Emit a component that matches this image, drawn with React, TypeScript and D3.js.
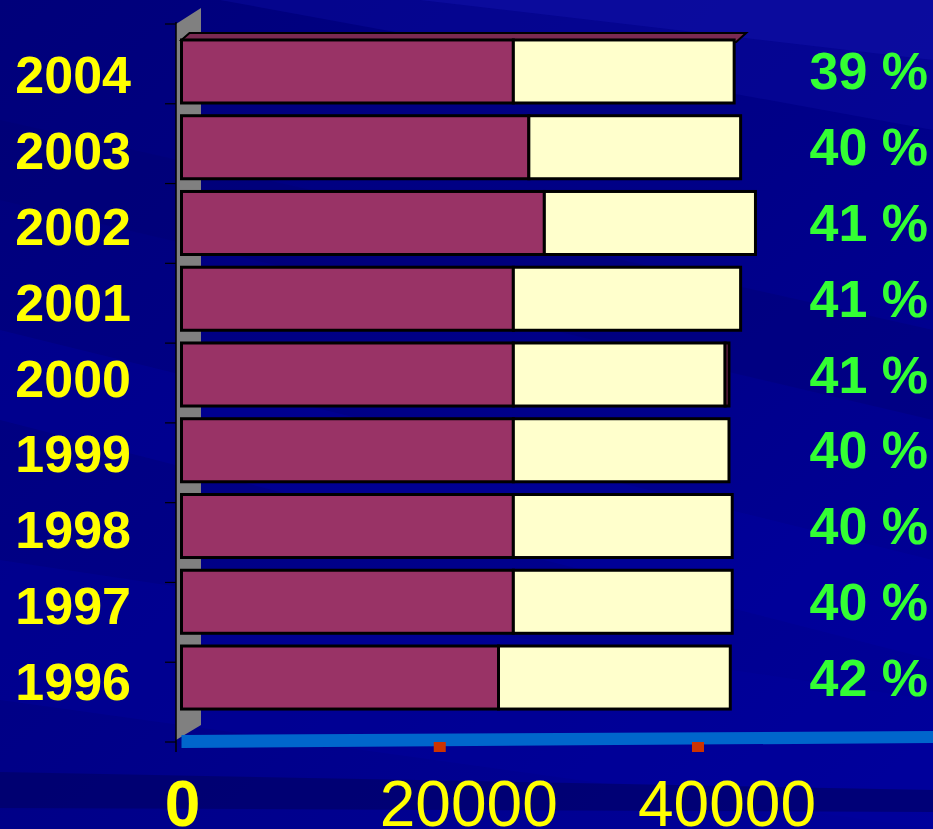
import React from 'react';
import * as d3 from 'd3';

// categories, top to bottom
const years = ['2004', '2003', '2002', '2001', '2000', '1999', '1998', '1997', '1996'];
// series values
const baseValues = [25700, 26900, 28100, 25700, 25700, 25700, 25700, 25700, 24550];
const shareValues = [17100, 16400, 16350, 17600, 16400, 16700, 16950, 16950, 17950];
const extraValues = [0, 0, 0, 0, 300, 0, 0, 0, 0];
const percentLabels = ['39 %', '40 %', '41 %', '41 %', '41 %', '40 %', '40 %', '40 %', '42 %'];
const xTicks = [0, 20000, 40000];

const W = 933;
const H = 829;
const FONT = 'Arial, "Liberation Sans", sans-serif';

const seriesColors = ['#993366', '#FFFFCC', '#993366'];

const App = () => {
  const x = d3.scaleLinear().domain([0, 40000]).range([181.5, 698]);
  const y = d3.scaleBand<string>().domain(years).range([33.6, 715.4]).paddingInner(0.168).paddingOuter(0.084);
  // category boundaries on the wall (perspective differs a bit from bars)
  const wallY = d3.scaleLinear().domain([0, years.length]).range([24, 742]);

  const table = years.map((yr, i) => ({ year: yr, base: baseValues[i], share: shareValues[i], extra: extraValues[i] }));
  const stack = d3.stack<any>().keys(['base', 'share', 'extra'])(table);

  const bh = y.bandwidth();
  const depth = { dx: 8, dy: -7 };
  const top = table[0];
  const topEnd = x(top.base + top.share + top.extra);

  // axis line slightly skewed
  const axisLine = [
    [x(0), 735], [W, 731], [W, 743], [x(0), 748]
  ];

  return (
    <svg width={W} height={H} style={{ position: 'absolute', left: 0, top: 0, fontFamily: FONT }}>
      <defs>
        <linearGradient id="bg" x1="0" y1="0" x2="1" y2="1">
          <stop offset="0" stopColor="#00007a" />
          <stop offset="0.5" stopColor="#000088" />
          <stop offset="1" stopColor="#00009a" />
        </linearGradient>
      </defs>
      <rect width={W} height={H} fill="url(#bg)" />
      {/* diagonal streaks */}
      <polygon points="220,0 933,0 933,130" fill="#0a0aa0" opacity={0.45} />
      <polygon points="420,0 933,0 933,60" fill="#1515b0" opacity={0.4} />
      <polygon points="0,120 933,330 933,420 0,200" fill="#000070" opacity={0.35} />
      <polygon points="0,330 933,560 933,660 0,420" fill="#0000a8" opacity={0.3} />
      <polygon points="0,560 933,700 933,829 0,700" fill="#0000a0" opacity={0.35} />
      <polygon points="0,772 933,790 933,812 0,808" fill="#000068" opacity={0.7} />

      {/* side wall */}
      <polygon points="176,24 201,8 201,725 176,740" fill="#808080" />
      <line x1={176} x2={176} y1={22} y2={752} stroke="#000" strokeWidth={1.5} />
      {d3.range(years.length + 1).map(i => (
        <line key={i} x1={165} x2={176} y1={wallY(i)} y2={wallY(i)} stroke="#000" strokeWidth={1.2} />
      ))}

      {/* top face of the first bar */}
      <polygon
        points={[
          [x(0), y(top.year)!], [x(0) + depth.dx, y(top.year)! + depth.dy],
          [topEnd + depth.dx + 4, y(top.year)! + depth.dy], [topEnd + 2, y(top.year)! + 2]
        ].map(p => p.join(',')).join(' ')}
        fill="#7a2a52" stroke="#000" strokeWidth={2}
      />

      {/* bars */}
      {stack.map((s, si) => (
        <g key={s.key}>
          {s.map((d, i) => (d[1] - d[0] > 0 ? (
            <rect
              key={i}
              x={x(d[0])}
              y={y(years[i])!}
              width={x(d[1]) - x(d[0])}
              height={bh}
              fill={seriesColors[si]}
              stroke="#000"
              strokeWidth={3}
            />
          ) : null))}
        </g>
      ))}

      {/* category labels */}
      {years.map(yr => (
        <text key={yr} x={131} y={y(yr)! + bh / 2 + 22} textAnchor="end" fill="#FFFF00"
          fontSize={52} fontWeight="bold">{yr}</text>
      ))}

      {/* percentages */}
      {years.map((yr, i) => (
        <text key={yr} x={928} y={y(yr)! + bh / 2 + 18} textAnchor="end" fill="#33FF33"
          fontSize={52} fontWeight="bold">{percentLabels[i]}</text>
      ))}

      {/* value axis */}
      <polygon points={axisLine.map(p => p.join(',')).join(' ')} fill="#0066CC" />
      {xTicks.filter(v => v > 0).map(v => (
        <rect key={v} x={x(v) - 6} y={742} width={12} height={10} fill="#CC3300" />
      ))}
      {xTicks.map(v => (
        <text key={v} x={v === 0 ? x(0) + 1 : x(v) + 29} y={826} textAnchor="middle" fill="#FFFF00"
          fontSize={64} fontWeight={v === 0 ? 'bold' : 'normal'}>{v}</text>
      ))}
    </svg>
  );
};

export default App;
